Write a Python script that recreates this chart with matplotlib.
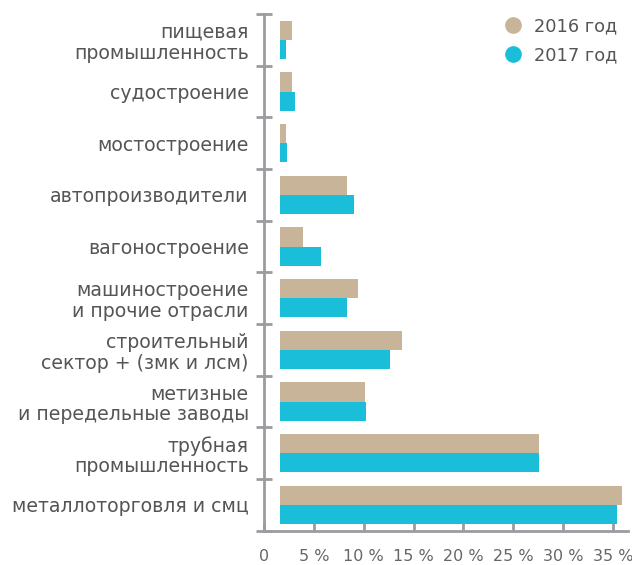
import numpy as np
import matplotlib.pyplot as plt
from matplotlib.lines import Line2D

plt.rcParams['font.family'] = ['DejaVu Sans']

categories = ["пищевая\nпромышленность", "судостроение", "мостостроение",
              "автопроизводители", "вагоностроение",
              "машиностроение\nи прочие отрасли",
              "строительный\nсектор + (змк и лсм)",
              "метизные\nи передельные заводы",
              "трубная\nпромышленность", "металлоторговля и смц"]
values_2016 = [2.8, 2.8, 2.2, 8.3, 3.9, 9.4, 13.8, 10.1, 27.6, 35.9]
values_2017 = [2.2, 3.1, 2.3, 9.0, 5.7, 8.3, 12.6, 10.2, 27.6, 35.4]
xticks = [0, 5, 10, 15, 20, 25, 30, 35]
xtick_labels = ["0", "5 %", "10 %", "15 %", "20 %", "25 %", "30 %", "35 %"]

col16 = "#c8b499"
col17 = "#1bbed8"
axis_col = "#9b9ba0"
text_col = "#555555"
bar_start = 1.6
h = 0.37

fig = plt.figure(figsize=(6.32, 5.65), dpi=100)
ax = fig.add_axes([264 / 632, 1 - 530.7 / 565, (628 - 264) / 632, (530.7 - 14) / 565])

y = np.arange(len(categories))
ax.barh(y - h / 2, np.array(values_2016) - bar_start, height=h, left=bar_start,
        color=col16)
ax.barh(y + h / 2, np.array(values_2017) - bar_start, height=h, left=bar_start,
        color=col17)

ax.set_xlim(0, 36.5)
ax.set_ylim(len(categories) - 0.5, -0.5)

for s in ["top", "right"]:
    ax.spines[s].set_visible(False)
for s in ["left", "bottom"]:
    ax.spines[s].set_color(axis_col)
    ax.spines[s].set_linewidth(2)

ax.set_xticks(xticks)
ax.set_xticklabels(xtick_labels)
ax.tick_params(axis='x', direction='in', length=6, width=2, color=axis_col,
               labelsize=11.5, labelcolor="#666666", pad=13.5)

ax.set_yticks(y)
ax.set_yticklabels(categories, linespacing=1.12)
ax.set_yticks(np.arange(-0.5, len(categories), 1), minor=True)
ax.tick_params(axis='y', which='major', length=0, pad=11, labelsize=13.6,
               labelcolor=text_col)
ax.tick_params(axis='y', which='minor', direction='inout', length=11, width=2,
               color=axis_col)

# round markers in the legend
handles = [Line2D([], [], marker='o', linestyle='', markersize=11, color=col16),
           Line2D([], [], marker='o', linestyle='', markersize=11, color=col17)]
ax.legend(handles, ["2016 год", "2017 год"], loc="upper right",
          bbox_to_anchor=(1.0, 1.014), frameon=False, fontsize=12.8,
          labelcolor="#555555", handletextpad=0.2, labelspacing=0.6,
          borderaxespad=0.2)

fig.savefig("out.png", dpi=100)
